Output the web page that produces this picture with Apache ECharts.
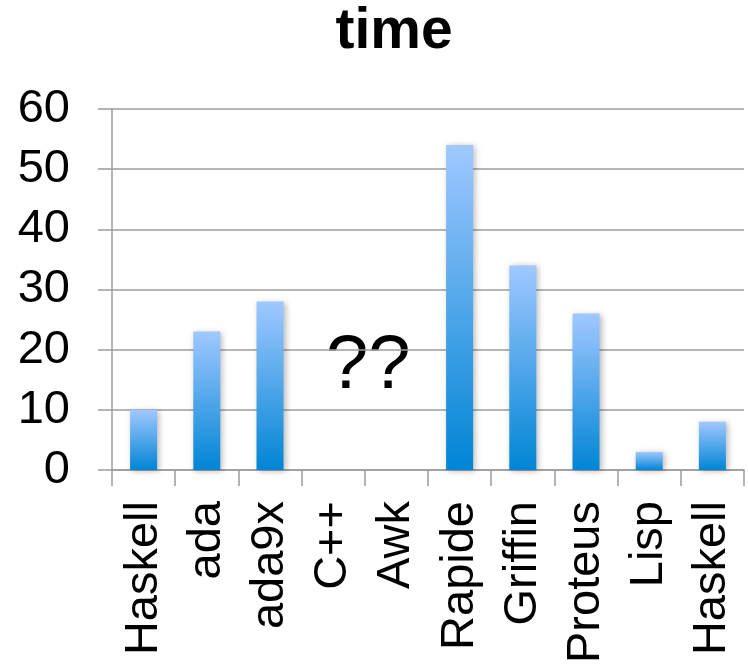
<!DOCTYPE html>
<html>
<head>
<meta charset="utf-8">
<script src="https://cdn.jsdelivr.net/npm/echarts@6/dist/echarts.min.js"></script>
<style>
html,body{margin:0;padding:0;background:#fff;}
#chart{width:748px;height:667px;}
</style>
</head>
<body>
<div id="chart"></div>
<script>
var titleText = 'time';
var categories = ['Haskell','ada','ada9x','C++','Awk','Rapide','Griffin','Proteus','Lisp','Haskell'];
var timeValues = [10, 23, 28, null, null, 54, 34, 26, 3, 8];
var yTicks = [0, 10, 20, 30, 40, 50, 60];
var annotationText = '??';

var FONT = "'Liberation Sans', Arial, Helvetica, sans-serif";
var chart = echarts.init(document.getElementById('chart'), null, {renderer: 'canvas'});
var option = {
  animation: false,
  backgroundColor: '#ffffff',
  title: {
    text: titleText,
    left: 389,
    top: -1,
    textAlign: 'center',
    textStyle: {fontFamily: FONT, fontSize: 57, fontWeight: 'bold', color: '#000'}
  },
  grid: {left: 112, right: 4, top: 109, bottom: 197, containLabel: false},
  xAxis: {
    type: 'category',
    data: categories,
    boundaryGap: true,
    axisLine: {lineStyle: {color: '#9c9c9c', width: 1.5}},
    axisTick: {show: true, length: 16, alignWithLabel: false, lineStyle: {color: '#9c9c9c', width: 1.5}},
    axisLabel: {
      interval: 0, rotate: 90, margin: 31,
      fontFamily: FONT, fontSize: 47, color: '#000'
    }
  },
  yAxis: {
    type: 'value',
    min: yTicks[0],
    max: yTicks[yTicks.length - 1],
    interval: 10,
    axisLine: {show: true, lineStyle: {color: '#9c9c9c', width: 1.5}},
    axisTick: {show: true, length: 14, lineStyle: {color: '#9c9c9c', width: 1.5}},
    splitLine: {show: true, lineStyle: {color: '#9c9c9c', width: 1.5}},
    axisLabel: {margin: 42, fontFamily: FONT, fontSize: 47, color: '#000'}
  },
  series: [{
    type: 'bar',
    data: timeValues,
    barWidth: 27,
    itemStyle: {
      color: new echarts.graphic.LinearGradient(0, 0, 0, 1, [
        {offset: 0, color: '#a0c8ff'},
        {offset: 1, color: '#0085d5'}
      ]),
      shadowColor: 'rgba(0,0,0,0.28)',
      shadowBlur: 6,
      shadowOffsetX: 2,
      shadowOffsetY: 1
    }
  }],
  graphic: [{
    type: 'text',
    left: 326,
    top: 329,
    style: {text: annotationText, font: '76px ' + FONT, fill: '#000'}
  }]
};
chart.setOption(option);
</script>
</body>
</html>
